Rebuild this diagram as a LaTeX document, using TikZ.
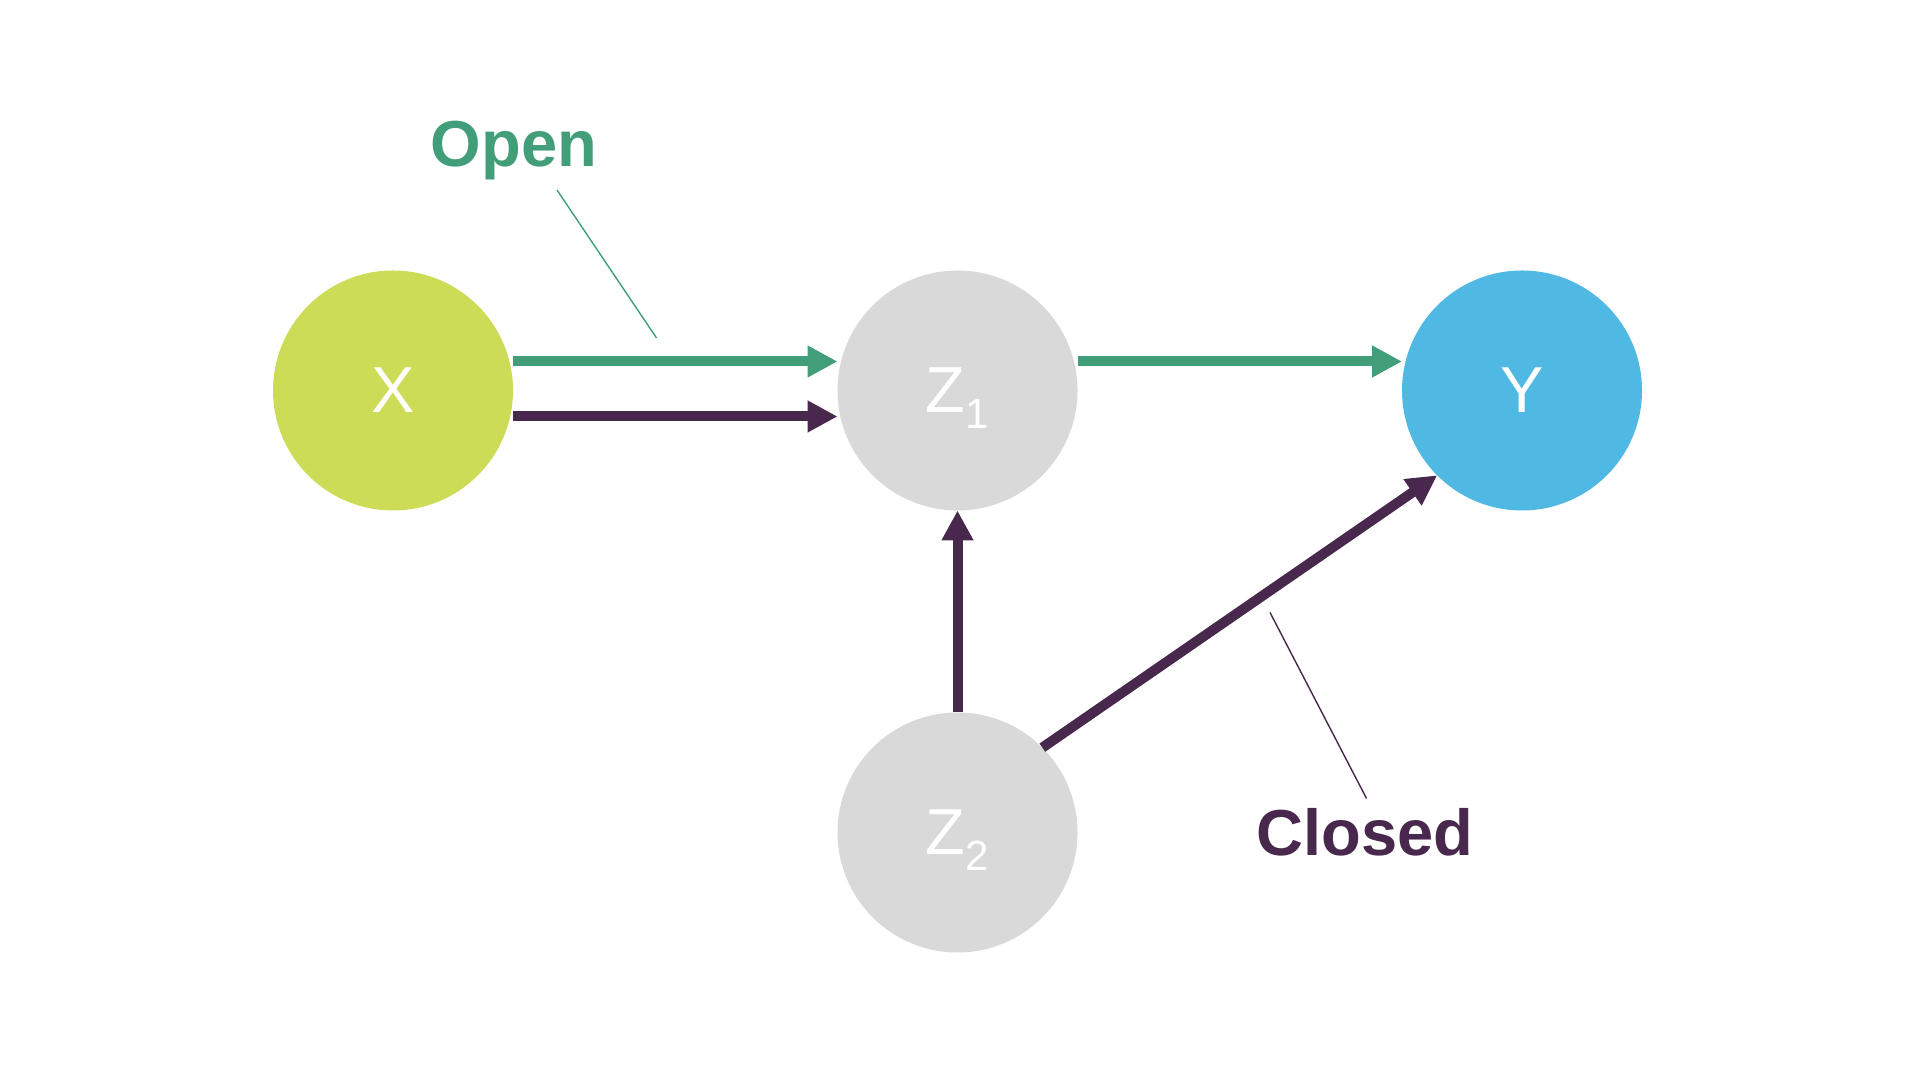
\documentclass[tikz,border=0pt]{standalone}
\usepackage{fontspec}
\setmainfont{Liberation Sans}
\usetikzlibrary{positioning,arrows.meta}
\definecolor{xlime}{HTML}{CDDC57}
\definecolor{zgray}{HTML}{D9D9D9}
\definecolor{yblue}{HTML}{50B9E3}
\definecolor{opengreen}{HTML}{429E78}
\definecolor{closedpurple}{HTML}{48284C}
\newcommand{\zsub}[1]{\smash{\raisebox{-0.32cm}{\fontsize{24}{24}\selectfont #1}}}
\begin{document}
\begin{tikzpicture}[var/.style={circle, minimum size=4.8cm, inner sep=0pt, outer sep=0pt, text=white, font=\fontsize{37}{37}\selectfont},
        path/.style={line width=0.2cm, -{Triangle[length=0.6cm,width=0.6cm]}},
        leader/.style={line width=0.8pt},
        label/.style={anchor=base, inner sep=0pt, font=\bfseries\fontsize{37}{37}\selectfont},
        node distance=6.49cm]
        \useasboundingbox (0,0) rectangle (38.4,21.6);
        \node [var, fill=xlime] (x) at (7.86,13.79) {X};
        \node [var, fill=zgray, right=of x] (z1) {Z\zsub{1}};
        \node [var, fill=yblue, right=of z1] (y) {Y};
        \node [var, fill=zgray, below=4.04cm of z1] (z2) {Z\zsub{2}};
        % paths
        \draw [path, opengreen] ([yshift=0.58cm]x.east) -- ([yshift=0.58cm]z1.west);
        \draw [path, opengreen] ([yshift=0.58cm]z1.east) -- ([yshift=0.58cm]y.west);
        \draw [path, closedpurple] ([yshift=-0.52cm]x.east) -- ([yshift=-0.52cm]z1.west);
        \draw [path, closedpurple] (z2) -- (z1);
        \draw [path, closedpurple] (z2.45) -- (y.225);
        % labels
        \node [label, text=opengreen] (open) at (10.28,18.26) {Open};
        \node [label, text=closedpurple] (closed) at (27.30,4.48) {Closed};
        \coordinate (openfrom) at (11.14,17.80);
        \coordinate (opento) at (13.13,14.84);
        \coordinate (closedfrom) at (25.40,9.35);
        \coordinate (closedto) at (27.33,5.63);
        \draw [leader, opengreen] (openfrom) -- (opento);
        \draw [leader, closedpurple] (closedfrom) -- (closedto);
    \end{tikzpicture}
\end{document}
